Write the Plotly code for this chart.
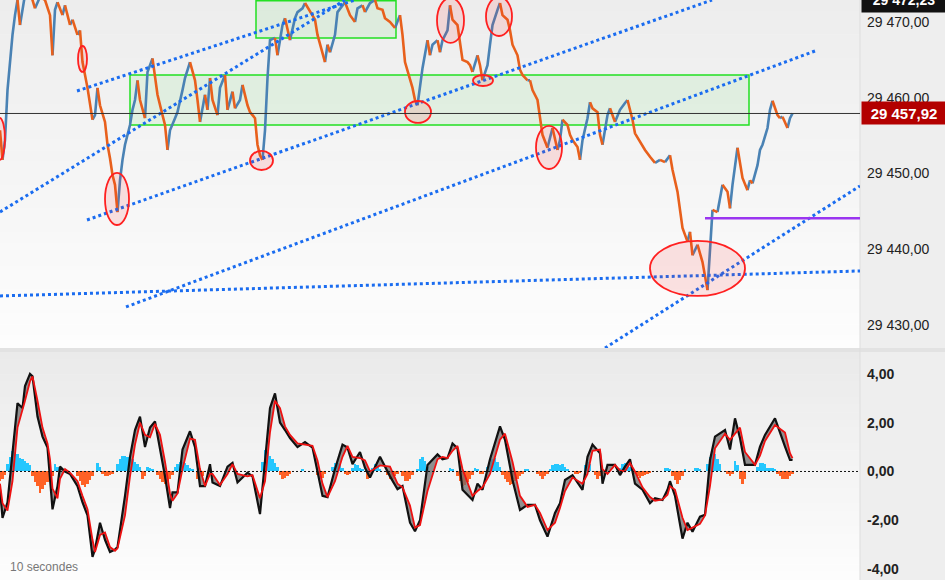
import plotly.graph_objects as go

# 10-second bars (bar number) and last price
bars = [0, 1, 2, 3, 4, 5, 6, 7, 8, 9, 10, 12, 14, 16, 18, 20, 21, 22, 23, 25, 26, 28, 29, 31, 32, 33, 35, 37, 38, 39,
        40, 42, 43, 44, 45, 46, 47, 48, 49, 50, 52, 53, 54, 55, 56, 58, 59, 61, 62, 63, 65, 66, 67, 68, 70, 71, 73, 74,
        76, 78, 79, 80, 82, 83, 84, 85, 87, 88, 90, 91, 93, 94, 96, 97, 99, 100, 102, 103, 104, 105, 106, 107, 108, 110,
        111, 113, 114, 116, 118, 119, 121, 122, 124, 126, 127, 128, 130, 131, 132, 134, 135, 137, 138, 140, 142, 143,
        145, 146, 148, 150, 151, 153, 154, 156, 158, 159, 160, 161, 162, 164, 165, 166, 167, 168, 169, 171, 172, 173,
        175, 176, 177, 179, 180, 181, 183, 184, 185, 187, 188, 189, 191, 192, 193, 195, 196, 197, 199, 200, 201, 203,
        204, 205, 207, 208, 209, 211, 212, 213, 215, 216, 217, 219, 220, 221, 223, 224, 225, 227, 228, 229, 231, 232,
        233, 235, 236, 237, 239, 240, 241, 243, 244, 246, 248, 250, 251, 253, 254, 256, 258, 260, 262, 264, 266, 268,
        269, 271, 272, 273, 275, 276, 277, 279, 280, 281, 283, 284, 285, 287, 288, 289, 291, 292, 293, 295, 296, 297,
        299, 300, 301, 303, 304, 305, 307, 308, 309, 311, 312, 313, 315, 316, 317]

price = [29455.7, 29451.8, 29454.4, 29461.0, 29465.0, 29468.3, 29470.9, 29472.9, 29469.6, 29471.6, 29473.6, 29474.0,
         29471.8, 29473.3, 29472.9, 29470.9, 29465.6, 29471.6, 29472.6, 29470.9, 29472.2, 29469.6, 29470.3, 29468.3,
         29468.9, 29464.7, 29461.3, 29457.1, 29457.7, 29461.3, 29459.0, 29456.8, 29453.8, 29452.0, 29449.8, 29448.5,
         29444.9, 29449.1, 29451.8, 29453.8, 29456.4, 29458.4, 29459.7, 29462.3, 29459.7, 29457.3, 29463.4, 29465.2,
         29463.0, 29460.4, 29457.7, 29456.4, 29453.1, 29455.7, 29457.3, 29458.1, 29461.0, 29462.6, 29464.7, 29462.3,
         29459.7, 29456.8, 29460.4, 29458.4, 29462.6, 29459.7, 29457.7, 29461.3, 29463.0, 29458.4, 29460.8, 29458.6,
         29459.7, 29461.7, 29459.0, 29458.1, 29457.3, 29453.8, 29452.4, 29451.8, 29455.7, 29462.6, 29467.6, 29467.9,
         29465.6, 29469.6, 29470.5, 29467.6, 29470.5, 29471.3, 29471.8, 29472.5, 29471.3, 29470.3, 29468.3, 29467.0,
         29464.7, 29467.0, 29466.0, 29468.3, 29471.3, 29472.2, 29472.6, 29470.9, 29470.0, 29471.8, 29472.2, 29471.3,
         29472.5, 29472.9, 29471.8, 29471.6, 29470.5, 29470.0, 29469.2, 29470.0, 29470.9, 29468.3, 29464.7, 29462.6,
         29461.3, 29459.7, 29459.0, 29461.7, 29463.9, 29467.6, 29465.6, 29467.0, 29467.6, 29466.0, 29467.6, 29468.9,
         29472.2, 29470.3, 29469.6, 29467.0, 29465.0, 29464.7, 29464.3, 29463.4, 29465.6, 29464.3, 29462.3, 29464.3,
         29467.0, 29469.6, 29471.6, 29472.5, 29470.9, 29470.3, 29468.9, 29467.0, 29465.6, 29463.7, 29463.0, 29462.3,
         29462.3, 29461.0, 29459.7, 29457.7, 29455.1, 29453.4, 29454.7, 29456.0, 29453.1, 29454.4, 29457.1, 29456.4,
         29455.1, 29454.4, 29453.5, 29451.8, 29454.4, 29457.3, 29459.4, 29458.6, 29458.1, 29455.1, 29453.8, 29457.7,
         29458.6, 29456.8, 29458.4, 29459.3, 29459.7, 29457.1, 29455.3, 29454.2, 29453.1, 29452.2, 29451.4, 29451.8,
         29451.5, 29452.4, 29450.5, 29447.6, 29445.4, 29442.8, 29441.0, 29442.3, 29439.2, 29440.6, 29439.6, 29438.3,
         29434.6, 29440.6, 29445.2, 29444.9, 29446.5, 29448.5, 29447.6, 29445.4, 29448.5, 29453.4, 29451.5, 29449.4,
         29447.8, 29449.1, 29448.7, 29451.1, 29453.1, 29453.8, 29456.0, 29458.4, 29459.6, 29457.7, 29457.3, 29457.5,
         29456.0, 29457.3, 29457.92]

last_price = 29457.92
high_price = 29472.23
support_level = 29444.1

# oscillator (black) and its signal (red)
osc_bars = [0, 1, 3, 5, 7, 9, 10, 12, 13, 15, 17, 19, 20, 21, 23, 24, 26, 28, 31, 33, 35, 37, 38, 40, 42, 44, 46, 47,
            50, 52, 54, 56, 58, 60, 62, 64, 66, 68, 69, 71, 73, 76, 78, 80, 82, 84, 85, 88, 91, 93, 95, 99, 101, 104,
            106, 108, 110, 112, 114, 116, 119, 122, 125, 127, 129, 131, 134, 137, 139, 141, 144, 146, 148, 152, 156,
            159, 161, 164, 166, 168, 171, 175, 177, 179, 181, 183, 185, 189, 191, 193, 196, 200, 202, 205, 208, 211,
            214, 216, 219, 222, 224, 226, 229, 233, 235, 237, 240, 241, 243, 246, 248, 250, 252, 254, 257, 260, 262,
            265, 267, 268, 270, 273, 275, 277, 280, 282, 284, 286, 290, 292, 294, 296, 298, 302, 304, 306, 310, 314,
            316, 317]
osc = [-0.73, -1.9, -1.27, 0.9, 2.8, 2.6, 3.5, 4.0, 3.9, 2.25, 1.43, 0.98, -0.2, -1.55, -0.6, 0.2, 0.0, -0.1, -0.6,
       -1.27, -1.8, -3.5, -3.2, -2.1, -2.8, -3.3, -3.2, -3.1, -1.0, 0.6, 1.7, 2.25, 1.0, 1.8, 2.05, 1.0, -0.2, -1.5,
       -0.86, -0.86, 0.9, 1.65, 1.0, -0.6, -0.6, 0.3, -0.45, -0.6, 0.2, 0.35, -0.45, -0.05, -0.2, -1.75, 0.5, 2.6,
       3.2, 2.0, 1.7, 1.37, 1.0, 1.2, 0.98, 0.0, -1.0, -1.05, 0.1, 1.1, 0.98, 0.3, 0.8, 0.15, -0.25, 0.6, -0.2,
       -0.73, -0.6, -2.1, -2.45, -2.0, 0.27, 0.7, 0.5, 0.55, 1.15, 0.95, -0.75, -1.17, -0.5, -0.75, 0.5, 1.85, 1.3,
       -0.35, -1.58, -1.37, -1.37, -2.0, -2.67, -1.7, -1.3, -0.35, -0.15, -0.75, 0.6, 1.1, 0.75, -0.5, 0.27, 0.27,
       -0.15, 0.2, 0.5, -0.5, -0.75, -1.3, -1.1, -1.17, -0.75, -0.4, -1.0, -2.75, -2.1, -2.47, -1.85, -1.78, 0.47,
       1.43, 1.7, 0.9, 2.18, 1.36, 0.27, 0.27, 1.02, 1.5, 2.18, 1.02, 0.47, 0.47]
signal = [-0.5, -1.3, -1.6, -0.4, 1.8, 2.5, 2.9, 3.7, 3.9, 2.9, 1.8, 1.15, 0.5, -0.7, -1.1, -0.3, 0.1, -0.05, -0.4,
          -1.0, -1.55, -2.8, -3.3, -2.6, -2.5, -3.1, -3.25, -3.15, -1.8, -0.2, 1.1, 2.0, 1.5, 1.4, 1.95, 1.5, 0.4,
          -0.9, -1.2, -0.9, 0.1, 1.35, 1.3, 0.1, -0.6, -0.1, -0.1, -0.55, -0.1, 0.3, -0.1, -0.2, -0.15, -1.1, -0.4,
          1.6, 2.9, 2.6, 1.85, 1.5, 1.15, 1.1, 1.05, 0.45, -0.5, -1.05, -0.4, 0.6, 1.05, 0.6, 0.55, 0.45, 0.0, 0.25,
          0.2, -0.5, -0.65, -1.4, -2.3, -2.2, -0.8, 0.5, 0.6, 0.55, 0.85, 1.05, 0.1, -1.0, -0.8, -0.65, -0.1, 1.3,
          1.55, 0.4, -1.0, -1.45, -1.37, -1.7, -2.4, -2.1, -1.5, -0.8, -0.25, -0.5, -0.1, 0.85, 0.9, 0.1, -0.1,
          0.27, 0.05, 0.0, 0.35, 0.0, -0.65, -1.05, -1.2, -1.15, -0.95, -0.6, -0.75, -1.9, -2.4, -2.3, -2.15, -1.8,
          -0.6, 0.95, 1.55, 1.3, 1.55, 1.8, 0.8, 0.27, 0.65, 1.25, 1.9, 1.6, 0.75, 0.55]

# histogram runs: (first bar, values)
hist_runs = [
    (0, [-0.4, -0.3, -0.15]),
    (3, [0.3, 0.6, 0.86, 0.8, 0.7, 0.55, 0.5, 0.45, 0.35, 0.25]),
    (13, [-0.2, -0.45, -0.6, -0.9, -0.7, -0.55, -0.45, -0.35, -0.2]),
    (22, [0.3, 0.2, 0.15]),
    (31, [-0.2, -0.4, -0.55, -0.65, -0.5, -0.35, -0.2]),
    (39, [0.35, 0.2]),
    (41, [-0.1, -0.2, -0.2, -0.15, -0.1]),
    (47, [0.3, 0.5, 0.65, 0.65, 0.6, 0.55, 0.5, 0.4, 0.3, 0.2]),
    (57, [-0.3, -0.2]),
    (59, [0.2, 0.15, 0.1]),
    (63, [-0.15, -0.3, -0.45, -0.5, -0.4, -0.3, -0.15]),
    (70, [0.2, 0.3, 0.4, 0.4, 0.35, 0.25, 0.15, 0.1]),
    (79, [-0.3, -0.5, -0.2]),
    (105, [0.4, 0.9, 0.8, 0.65, 0.5, 0.35, 0.2]),
    (112, [-0.15, -0.3, -0.25, -0.2, -0.1]),
    (121, [0.1]),
    (127, [-0.15, -0.3, -0.25, -0.1]),
    (133, [0.2, 0.35, 0.35, 0.3, 0.15]),
    (138, [-0.1, -0.15, -0.1]),
    (141, [0.15, 0.3, 0.25, 0.15, 0.1]),
    (147, [-0.3, -0.2]),
    (149, [0.15, 0.3, 0.25, 0.1]),
    (155, [-0.15, -0.3, -0.3, -0.2, -0.1]),
    (161, [-0.2, -0.4, -0.4, -0.3, -0.15]),
    (167, [0.1, 0.5, 0.6, 0.45, 0.2]),
    (180, [0.15, 0.1]),
    (183, [-0.2, -0.4, -0.6, -0.55, -0.45, -0.3, -0.15]),
    (190, [0.15, 0.1]),
    (192, [-0.1, -0.1]),
    (195, [0.2, 0.35, 0.5, 0.55, 0.4, 0.2]),
    (201, [-0.15, -0.3, -0.45, -0.55, -0.5, -0.4, -0.3, -0.2, -0.1]),
    (210, [0.1, 0.1]),
    (215, [-0.1, -0.2, -0.3, -0.2, -0.1]),
    (220, [0.1, 0.25, 0.3, 0.3, 0.25, 0.3, 0.2, 0.1]),
    (230, [-0.1, -0.1, -0.05]),
    (234, [0.25, 0.4, 0.3]),
    (238, [-0.15, -0.3, -0.2, -0.1]),
    (248, [0.15, 0.3, 0.35, 0.3, 0.2, 0.1]),
    (254, [-0.1, -0.2, -0.25, -0.2, -0.15, -0.1, -0.05]),
    (266, [0.15, 0.15, 0.1]),
    (269, [-0.2, -0.35, -0.5, -0.35, -0.2]),
    (274, [0.1]),
    (278, [0.15, 0.15, 0.1]),
    (283, [0.3, 0.6, 0.83, 0.7, 0.5, 0.3]),
    (291, [-0.1, -0.2, -0.1]),
    (294, [0.45, 0.25]),
    (296, [-0.3, -0.5, -0.3]),
    (303, [0.2, 0.35, 0.35, 0.3, 0.15, 0.15, 0.15, 0.1]),
    (311, [-0.1, -0.2, -0.3, -0.3, -0.3, -0.2, -0.1]),
]

price_ticks = [29430, 29440, 29450, 29460, 29470]
price_tick_text = ["29 430,00", "29 440,00", "29 450,00", "29 460,00", "29 470,00"]
osc_ticks = [-4, -2, 0, 2, 4]
osc_tick_text = ["-4,00", "-2,00", "0,00", "2,00", "4,00"]

assert len(bars) == len(price)
assert len(osc_bars) == len(osc) == len(signal)

UP = "#4a82b4"
DOWN = "#e8601c"
XMAX = 344
XD = 860 / 945
TOP_D = [0.4, 1.0]
BOT_D = [0.0, 1 - 352 / 580]

# split the price path into up / down runs
up_x, up_y, dn_x, dn_y = [], [], [], []
for i in range(len(price) - 1):
    tx, ty = (up_x, up_y) if price[i + 1] >= price[i] else (dn_x, dn_y)
    if tx and tx[-1] == bars[i]:
        tx.append(bars[i + 1]); ty.append(price[i + 1])
    else:
        if tx:
            tx.append(None); ty.append(None)
        tx += [bars[i], bars[i + 1]]; ty += [price[i], price[i + 1]]

hx, hy = [], []
for start, vals in hist_runs:
    for k, v in enumerate(vals):
        hx.append(start + k); hy.append(v)
hcol = ["rgba(0,190,255,0.85)" if v > 0 else "rgba(255,70,0,0.85)" for v in hy]

fig = go.Figure()
fig.add_trace(go.Scatter(x=up_x, y=up_y, mode="lines", line=dict(color=UP, width=2.6), xaxis="x", yaxis="y"))
fig.add_trace(go.Scatter(x=dn_x, y=dn_y, mode="lines", line=dict(color=DOWN, width=2.6), xaxis="x", yaxis="y"))

fig.add_trace(go.Bar(x=hx, y=hy, width=1.0, xaxis="x2", yaxis="y2",
                     marker=dict(color=hcol, line=dict(width=0))))
fig.add_trace(go.Scatter(x=osc_bars, y=osc, mode="lines", line=dict(width=0, color="rgba(0,0,0,0)"),
                         xaxis="x2", yaxis="y2"))
fig.add_trace(go.Scatter(x=osc_bars, y=signal, mode="lines", line=dict(width=0, color="rgba(0,0,0,0)"),
                         fill="tonexty", fillcolor="rgba(110,110,110,0.75)", xaxis="x2", yaxis="y2"))
fig.add_trace(go.Scatter(x=osc_bars, y=osc, mode="lines", line=dict(color="#111111", width=2.2),
                         xaxis="x2", yaxis="y2"))
fig.add_trace(go.Scatter(x=osc_bars, y=signal, mode="lines", line=dict(color="#ee1111", width=1.8),
                         xaxis="x2", yaxis="y2"))

shapes = []
# background gradients
n = 30
for dom, c0, c1 in [(TOP_D, 237, 253), (BOT_D, 234, 253)]:
    h = (dom[1] - dom[0]) / n
    for k in range(n):
        c = round(c0 + (c1 - c0) * k / (n - 1))
        shapes.append(dict(type="rect", xref="paper", yref="paper", x0=0, x1=XD,
                           y0=dom[1] - (k + 1) * h, y1=dom[1] - k * h + 0.001,
                           fillcolor=f"rgb({c},{c},{c})", line=dict(width=0), layer="below"))
shapes.append(dict(type="rect", xref="paper", yref="paper", x0=XD, x1=1, y0=0, y1=1,
                   fillcolor="#eeeeee", line=dict(width=0), layer="below"))
shapes.append(dict(type="rect", xref="paper", yref="paper", x0=0, x1=1, y0=BOT_D[1], y1=TOP_D[0],
                   fillcolor="#e2e2e2", line=dict(width=0), layer="below"))
shapes.append(dict(type="line", xref="paper", yref="paper", x0=XD, x1=XD, y0=0, y1=1,
                   line=dict(color="#dddddd", width=1), layer="below"))

# consolidation boxes
for x0, x1, y0, y1 in [(102.4, 158.4, 29467.9, 29472.8), (52, 299.6, 29456.4, 29463.0)]:
    shapes.append(dict(type="rect", xref="x", yref="y", x0=x0, x1=x1, y0=y0, y1=y1,
                       fillcolor="rgba(60,210,60,0.09)", line=dict(color="#22e022", width=1.5), layer="below"))

# trend lines
for x0, y0, x1, y1 in [(34.8, 29443.86, 284.8, 29472.9), (0, 29444.92, 138, 29472.9),
                       (30.8, 29460.89, 142, 29472.9), (50.4, 29432.38, 326, 29466.17),
                       (0, 29433.83, 344, 29437.13), (242, 29426.96, 344, 29448.35)]:
    shapes.append(dict(type="line", xref="x", yref="y", x0=x0, y0=y0, x1=x1, y1=y1,
                       line=dict(color="#1a6cf0", width=3, dash="dot")))

# highlighted turning points
for x0, x1, y0, y1 in [(-2.4, 2.0, 29451.78, 29457.33), (31.2, 34.8, 29463.4, 29466.83),
                       (42, 51.6, 29443.2, 29450.07), (100, 109.2, 29450.46, 29452.97),
                       (162, 172.4, 29456.67, 29459.57), (174.8, 185.6, 29467.23, 29473.17),
                       (189.2, 197.2, 29461.55, 29463.0), (194.4, 204.8, 29468.15, 29473.3),
                       (214.4, 224.8, 29450.59, 29456.27), (260, 298, 29433.83, 29441.09)]:
    shapes.append(dict(type="circle", xref="x", yref="y", x0=x0, x1=x1, y0=y0, y1=y1,
                       fillcolor="rgba(255,40,40,0.12)", line=dict(color="#ff2020", width=1.8)))

shapes.append(dict(type="line", xref="x", yref="y", x0=282, x1=XMAX, y0=support_level, y1=support_level,
                   line=dict(color="#9a35f0", width=2.5)))
shapes.append(dict(type="line", xref="paper", yref="y", x0=0, x1=XD, y0=last_price, y1=last_price,
                   line=dict(color="#333333", width=1)))
shapes.append(dict(type="line", xref="paper", yref="y2", x0=0, x1=XD, y0=0, y1=0,
                   line=dict(color="#111111", width=1, dash="2px,2px")))

annotations = [
    dict(xref="paper", yref="y", x=XD + 0.001, y=last_price, xanchor="left", yanchor="middle",
         text="<b>29 457,92</b>", showarrow=False, bgcolor="#b30000", width=82, height=20,
         font=dict(family="Liberation Sans", size=15, color="white")),
    dict(xref="paper", yref="paper", x=XD + 0.001, y=1.0, xanchor="left", yanchor="middle",
         text="<b>29 472,23</b>", showarrow=False, bgcolor="#111111", width=82, height=22,
         font=dict(family="Liberation Sans", size=14, color="white")),
    dict(xref="paper", yref="paper", x=8 / 945, y=1 - 567 / 580, xanchor="left", yanchor="middle",
         text="10 secondes", showarrow=False, font=dict(family="Liberation Sans", size=12, color="#777777")),
]

axis_common = dict(showgrid=False, zeroline=False, showline=False)
fig.update_layout(
    width=945, height=580, margin=dict(l=0, r=0, t=0, b=0),
    paper_bgcolor="white", plot_bgcolor="rgba(0,0,0,0)",
    showlegend=False, bargap=0,
    font=dict(family="Liberation Sans", color="#222222"),
    xaxis=dict(domain=[0, XD], range=[0, XMAX], showticklabels=False, anchor="y", **axis_common),
    xaxis2=dict(domain=[0, XD], range=[0, XMAX], showticklabels=False, anchor="y2", matches="x", **axis_common),
    yaxis=dict(domain=TOP_D, range=[29426.96, 29472.9], side="right", anchor="x",
               tickvals=price_ticks, ticktext=price_tick_text, ticks="", ticklabelstandoff=6,
               tickfont=dict(size=14, color="#222222"), **axis_common),
    yaxis2=dict(domain=BOT_D, range=[-4.449, 4.898], side="right", anchor="x2",
                tickvals=osc_ticks, ticktext=osc_tick_text, ticks="", ticklabelstandoff=6,
                tickfont=dict(size=14, color="#222222", weight="bold"), **axis_common),
    shapes=shapes, annotations=annotations,
)

fig.write_html("out.html", config={"displayModeBar": False},
               post_script="document.body.style.margin='0';document.body.style.overflow='hidden';")
